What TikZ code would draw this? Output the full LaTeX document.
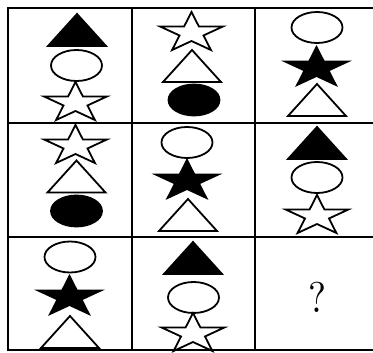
\documentclass[tikz,border=0pt]{standalone}
\usepackage{fontspec}
\usetikzlibrary{positioning}

\begin{document}
\begin{tikzpicture}[x=1pt, y=-1pt, line width=1.8pt]
\tikzset{
    grid line/.style={line width=1.9pt},
    shape line/.style={line width=1.8pt},
    pics/tri/.style={code={\draw[shape line, #1] (-29,16) -- (0,-16) -- (29,16) -- cycle;}},
    pics/egg/.style={code={\draw[shape line, #1] (0,0) ellipse [x radius=25.5, y radius=15.5];}},
    pics/fivestar/.style={code={\draw[shape line, #1] plot[samples at={0,...,9}] ({33*(1-0.618*mod(\x,2))*cos(90+36*\x)}, {-21*(1-0.618*mod(\x,2))*sin(90+36*\x)}) -- cycle;}},
    blank/.style={fill=white},
    solid/.style={fill=black},
    query/.style={inner sep=0pt, xscale=3.8, yscale=4.3, transform shape}
}
\useasboundingbox (0,0) rectangle (373,353);
% grid
\draw[grid line] (8,8) -- (8,350);
\draw[grid line] (132,8) -- (132,350);
\draw[grid line] (255,8) -- (255,350);
\draw[grid line] (7,8) -- (373,8);
\draw[grid line] (7,123) -- (373,123);
\draw[grid line] (7,237) -- (373,237);
\draw[grid line] (7,350) -- (373,350);
% row 1
\pic (t11) at (77,30) {tri=solid}; \pic (e11) at (76.5,65.5) {egg=blank}; \pic (s11) at (75.5,103) {fivestar=blank};
\pic (s12) at (191.5,33) {fivestar=blank}; \pic (t12) at (192,66) {tri=blank}; \pic (e12) at (194,100) {egg=solid};
\pic (e13) at (317,27.5) {egg=blank}; \pic (s13) at (316.5,68) {fivestar=solid}; \pic (t13) at (317,100) {tri=blank};
% row 2
\pic (s21) at (75.5,146) {fivestar=blank}; \pic (t21) at (76.5,176.5) {tri=blank}; \pic (e21) at (76.5,211) {egg=solid};
\pic (e22) at (187,142.5) {egg=blank}; \pic (s22) at (187,181) {fivestar=solid}; \pic (t22) at (188,215) {tri=blank};
\pic (t23) at (317,143) {tri=solid}; \pic (e23) at (317,177.5) {egg=blank}; \pic (s23) at (317,216) {fivestar=blank};
% row 3
\pic (e31) at (70,257) {egg=blank}; \pic (s31) at (69.5,297) {fivestar=solid}; \pic (t31) at (70,332) {tri=blank};
\pic (t32) at (193,258) {tri=solid}; \pic (e32) at (193.5,297.5) {egg=blank}; \pic (s32) at (193,334) {fivestar=blank};
\node[query] (ask) at (317,297) {?};
\end{tikzpicture}
\end{document}
